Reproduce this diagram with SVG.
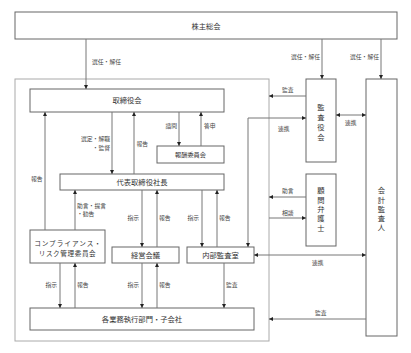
<svg xmlns="http://www.w3.org/2000/svg" width="411" height="353" viewBox="0 0 411 353">
<defs>
<marker id="ah" viewBox="0 0 6 6" refX="6" refY="3" markerWidth="4" markerHeight="4" markerUnits="userSpaceOnUse" orient="auto-start-reverse">
<path d="M0,0 L6,3 L0,6 Z" fill="#222"/>
</marker>
<style>
.box{fill:#fff;stroke:#666;stroke-width:1}
.outer{fill:none;stroke:#aaa;stroke-width:1}
.t{font-family:"Noto Sans CJK JP","Noto Sans CJK SC",sans-serif;fill:#333;text-anchor:middle;font-size:7.3px}
.s{font-family:"Noto Sans CJK JP","Noto Sans CJK SC",sans-serif;fill:#444;font-size:5.8px}
.e{text-anchor:end}
.c{stroke:#777;stroke-width:1;fill:none;marker-end:url(#ah)}
.d{stroke:#777;stroke-width:1;fill:none;marker-end:url(#ah);marker-start:url(#ah)}
</style>
</defs>
<rect width="411" height="353" fill="#fff"/>
<rect class="outer" x="15" y="79" width="254" height="262"/>

<g id="shareholders">
<rect class="box" x="15" y="12" width="382" height="27"/>
<text class="t" x="206" y="28.5">株主総会</text>
</g>
<g id="board">
<rect class="box" x="30" y="89" width="194" height="23"/>
<text class="t" x="127" y="103">取締役会</text>
</g>
<g id="compensation">
<rect class="box" x="157" y="146" width="67" height="17"/>
<text class="t" x="190.5" y="157" style="font-size:6.2px">報酬委員会</text>
</g>
<g id="president">
<rect class="box" x="60" y="174" width="164" height="16"/>
<text class="t" x="142" y="184.5">代表取締役社長</text>
</g>
<g id="compliance">
<rect class="box" x="30" y="230" width="75" height="33"/>
<text class="t" x="68" y="245.5" style="font-size:6.6px;letter-spacing:1px">コンプライアンス・</text>
<text class="t" x="67.5" y="256" style="font-size:6.6px;letter-spacing:0.6px">リスク管理委員会</text>
</g>
<g id="management">
<rect class="box" x="112" y="247" width="67" height="16"/>
<text class="t" x="145.5" y="258">経営会議</text>
</g>
<g id="internal-audit">
<rect class="box" x="187" y="247" width="67" height="16"/>
<text class="t" x="220.5" y="258">内部監査室</text>
</g>
<g id="divisions">
<rect class="box" x="30" y="308" width="224" height="22"/>
<text class="t" x="142" y="322">各業務執行部門・子会社</text>
</g>
<g id="auditors">
<rect class="box" x="306" y="79" width="30" height="83"/>
<text class="t"><tspan x="321" y="110">監</tspan><tspan x="321" y="120">査</tspan><tspan x="321" y="130">役</tspan><tspan x="321" y="139.5">会</tspan></text>
</g>
<g id="lawyer">
<rect class="box" x="306" y="174" width="30" height="72"/>
<text class="t"><tspan x="321" y="193">顧</tspan><tspan x="321" y="203">問</tspan><tspan x="321" y="212">弁</tspan><tspan x="321" y="221">護</tspan><tspan x="321" y="231">士</tspan></text>
</g>
<g id="accounting-auditor">
<rect class="box" x="366" y="79" width="31" height="257"/>
<text class="t"><tspan x="381.5" y="193">会</tspan><tspan x="381.5" y="203">計</tspan><tspan x="381.5" y="212">監</tspan><tspan x="381.5" y="221">査</tspan><tspan x="381.5" y="230">人</tspan></text>
</g>

<g id="connectors">
<line class="c" x1="86" y1="39" x2="86" y2="89"/>
<line class="c" x1="322" y1="39" x2="322" y2="79"/>
<line class="c" x1="381" y1="39" x2="381" y2="79"/>
<line class="c" x1="112" y1="112" x2="112" y2="174"/>
<line class="c" x1="134" y1="174" x2="134" y2="112"/>
<line class="c" x1="179" y1="112" x2="179" y2="146"/>
<line class="c" x1="201" y1="146" x2="201" y2="112"/>
<line class="c" x1="45" y1="230" x2="45" y2="112"/>
<line class="c" x1="75" y1="230" x2="75" y2="190"/>
<line class="c" x1="142" y1="190" x2="142" y2="247"/>
<line class="c" x1="157" y1="247" x2="157" y2="190"/>
<line class="c" x1="202" y1="190" x2="202" y2="247"/>
<line class="c" x1="217" y1="247" x2="217" y2="190"/>
<path class="d" d="M306,118 H248 V247"/>
<line class="c" x1="306" y1="96" x2="269" y2="96"/>
<line class="d" x1="336" y1="115" x2="366" y2="115"/>
<line class="c" x1="306" y1="197" x2="269" y2="197"/>
<line class="c" x1="269" y1="218" x2="306" y2="218"/>
<line class="d" x1="254" y1="255" x2="366" y2="255"/>
<line class="c" x1="224" y1="263" x2="224" y2="308"/>
<line class="c" x1="366" y1="319" x2="269" y2="319"/>
<line class="c" x1="60" y1="263" x2="60" y2="308"/>
<line class="c" x1="75" y1="308" x2="75" y2="263"/>
<line class="c" x1="142" y1="263" x2="142" y2="308"/>
<line class="c" x1="157" y1="308" x2="157" y2="263"/>

<text class="s" x="92" y="64">選任・解任</text>
<text class="s e" x="320" y="59">選任・解任</text>
<text class="s e" x="379" y="59">選任・解任</text>
<text class="s e" x="110" y="141">選定・解職</text>
<text class="s e" x="110" y="149.5">・監督</text>
<text class="s" x="136.5" y="146">報告</text>
<text class="s e" x="177" y="127.5">諮問</text>
<text class="s" x="204" y="128">答申</text>
<text class="s e" x="42.5" y="181">報告</text>
<text class="s" x="77" y="208">助言・提言</text>
<text class="s" x="77" y="216">・勧告</text>
<text class="s e" x="139" y="220">指示</text>
<text class="s" x="159" y="220">報告</text>
<text class="s e" x="199" y="220">指示</text>
<text class="s" x="219" y="220">報告</text>
<text class="s" x="278" y="131">連携</text>
<text class="s" x="282" y="92">監査</text>
<text class="s" x="345" y="125">連携</text>
<text class="s" x="282" y="193">助言</text>
<text class="s" x="282" y="215">相談</text>
<text class="s" x="312" y="264.5">連携</text>
<text class="s" x="226" y="287">監査</text>
<text class="s" x="315" y="315">監査</text>
<text class="s e" x="57" y="287">指示</text>
<text class="s" x="77" y="287">報告</text>
<text class="s e" x="139" y="287">指示</text>
<text class="s" x="159" y="287">報告</text>
</g>
</svg>
